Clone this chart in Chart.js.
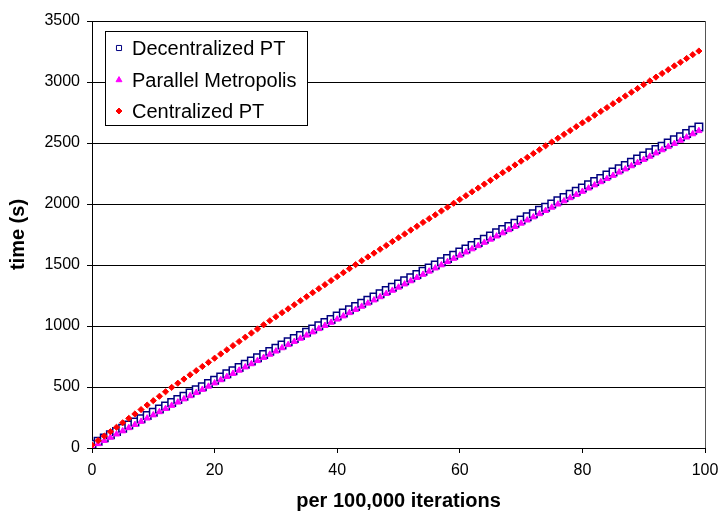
<!DOCTYPE html>
<html>
<head>
<meta charset="utf-8">
<script src="https://cdn.jsdelivr.net/npm/chart.js@4.4.1/dist/chart.umd.min.js"></script>
<style>
  body { margin: 0; background: #fff; }
  #wrap { width: 721px; height: 521px; }
</style>
</head>
<body>
<div id="wrap"><canvas id="timing" width="721" height="521"></canvas></div>
<script>
// x = per 100,000 iterations
var iterations = [
  0, 1, 2, 3, 4, 5, 6, 7, 8, 9, 10, 11, 12, 13, 14, 15, 16, 17, 18, 19,
  20, 21, 22, 23, 24, 25, 26, 27, 28, 29, 30, 31, 32, 33, 34, 35, 36, 37, 38, 39,
  40, 41, 42, 43, 44, 45, 46, 47, 48, 49, 50, 51, 52, 53, 54, 55, 56, 57, 58, 59,
  60, 61, 62, 63, 64, 65, 66, 67, 68, 69, 70, 71, 72, 73, 74, 75, 76, 77, 78, 79,
  80, 81, 82, 83, 84, 85, 86, 87, 88, 89, 90, 91, 92, 93, 94, 95, 96, 97, 98, 99
];
// time (s)
var decentralizedPT = [
  30, 56, 83, 109, 135, 161, 188, 214, 240, 266, 293, 319, 345, 372, 398, 424, 450, 477, 503, 529,
  555, 582, 608, 634, 660, 687, 713, 739, 766, 792, 818, 844, 871, 897, 923, 949, 976, 1002, 1028, 1054,
  1081, 1107, 1133, 1160, 1186, 1212, 1238, 1265, 1291, 1317, 1344, 1370, 1396, 1422, 1449, 1475, 1501, 1527, 1554, 1580,
  1606, 1632, 1659, 1685, 1711, 1738, 1764, 1790, 1816, 1843, 1869, 1895, 1921, 1948, 1974, 2000, 2027, 2053, 2079, 2105,
  2132, 2158, 2184, 2210, 2237, 2263, 2289, 2316, 2342, 2368, 2394, 2421, 2447, 2473, 2499, 2526, 2552, 2578, 2605, 2631
];
var parallelMetropolis = [
  8, 34, 60, 87, 113, 139, 165, 191, 217, 244, 270, 296, 322, 348, 375, 401, 427, 453, 479, 505,
  532, 558, 584, 610, 636, 663, 689, 715, 741, 767, 793, 820, 846, 872, 898, 924, 950, 977, 1003, 1029,
  1055, 1081, 1108, 1134, 1160, 1186, 1212, 1238, 1265, 1291, 1317, 1343, 1369, 1396, 1422, 1448, 1474, 1500, 1526, 1553,
  1579, 1605, 1631, 1657, 1684, 1710, 1736, 1762, 1788, 1814, 1841, 1867, 1893, 1919, 1945, 1972, 1998, 2024, 2050, 2076,
  2102, 2129, 2155, 2181, 2207, 2233, 2260, 2286, 2312, 2338, 2364, 2390, 2417, 2443, 2469, 2495, 2521, 2547, 2574, 2600
];
var centralizedPT = [
  25, 61, 98, 134, 170, 207, 243, 279, 315, 352, 388, 424, 461, 497, 531, 565, 600, 634, 668, 702,
  736, 771, 805, 839, 873, 908, 942, 976, 1010, 1043, 1076, 1109, 1141, 1174, 1207, 1240, 1273, 1306, 1339, 1372,
  1405, 1437, 1470, 1503, 1535, 1566, 1597, 1629, 1660, 1692, 1723, 1754, 1786, 1817, 1849, 1880, 1911, 1943, 1974, 2006,
  2037, 2068, 2100, 2131, 2163, 2194, 2226, 2257, 2288, 2320, 2351, 2382, 2414, 2445, 2477, 2508, 2539, 2571, 2602, 2634,
  2665, 2696, 2728, 2759, 2790, 2822, 2853, 2885, 2916, 2947, 2979, 3009, 3040, 3070, 3101, 3132, 3162, 3193, 3224, 3254
];
var seriesNames = ['Decentralized PT', 'Parallel Metropolis', 'Centralized PT'];

var FONT = "'Liberation Sans', Arial, sans-serif";

function toPoints(ys) {
  var pts = [];
  for (var i = 0; i < ys.length; i++) {
    pts.push({x: iterations[i], y: ys[i]});
  }
  return pts;
}

// boxed legend inside the plot, drawn on top of grid lines
var boxLegend = {
  id: 'boxLegend',
  afterDatasetsDraw: function(chart) {
    var ctx = chart.ctx;
    ctx.save();
    ctx.fillStyle = '#fff';
    ctx.strokeStyle = '#000';
    ctx.lineWidth = 1;
    ctx.fillRect(105.5, 31.5, 202, 94);
    ctx.strokeRect(105.5, 31.5, 202, 94);
    var rows = [48, 80, 111];
    var sizes = [3.6, 3.4, 3.0];
    chart.data.datasets.forEach(function(ds, i) {
      ctx.fillStyle = ds.backgroundColor;
      ctx.strokeStyle = ds.borderColor;
      ctx.lineWidth = 1;
      Chart.helpers.drawPoint(ctx, {pointStyle: ds.pointStyle, radius: sizes[i], borderWidth: 1, rotation: 0}, 119, rows[i]);
      ctx.fillStyle = '#000';
      ctx.font = '20px ' + FONT;
      ctx.textBaseline = 'middle';
      ctx.textAlign = 'left';
      ctx.fillText(ds.label, 132, rows[i] + 1);
    });
    ctx.restore();
  }
};

// right-hand frame line of the plot area
var frame = {
  id: 'frame',
  beforeDatasetsDraw: function(chart) {
    var a = chart.chartArea;
    var ctx = chart.ctx;
    ctx.save();
    ctx.strokeStyle = '#555';
    ctx.lineWidth = 1;
    ctx.beginPath();
    ctx.moveTo(Math.round(a.right) + 0.5, a.top);
    ctx.lineTo(Math.round(a.right) + 0.5, a.bottom);
    ctx.stroke();
    ctx.restore();
  }
};

const ctx = document.getElementById('timing').getContext('2d');
const timingChart = new Chart(ctx, {
  type: 'scatter',
  data: {
    datasets: [
      {
        label: seriesNames[0],
        data: toPoints(decentralizedPT),
        pointStyle: 'rect',
        pointRadius: 5.3,
        borderWidth: 1.5,
        borderColor: '#000080',
        backgroundColor: '#ffffff',
        order: 3
      },
      {
        label: seriesNames[1],
        data: toPoints(parallelMetropolis),
        pointStyle: 'triangle',
        pointRadius: 3.6,
        borderWidth: 1,
        borderColor: '#ff00ff',
        backgroundColor: '#ff00ff',
        order: 2
      },
      {
        label: seriesNames[2],
        data: toPoints(centralizedPT),
        pointStyle: 'rectRot',
        pointRadius: 3.1,
        borderWidth: 1,
        borderColor: '#ff0000',
        backgroundColor: '#ff0000',
        order: 1
      }
    ]
  },
  options: {
    responsive: false,
    animation: false,
    events: [],
    layout: {
      padding: {left: 0, top: 21, right: 16, bottom: 0}
    },
    plugins: {
      legend: {display: false},
      tooltip: {enabled: false}
    },
    scales: {
      x: {
        type: 'linear',
        min: 0,
        max: 100,
        ticks: {
          stepSize: 20,
          color: '#000',
          padding: 8,
          maxRotation: 0,
          font: {family: FONT, size: 16}
        },
        grid: {
          drawOnChartArea: false,
          drawTicks: true,
          tickLength: 5,
          color: '#000'
        },
        border: {color: '#000', width: 1},
        title: {
          display: true,
          text: 'per 100,000 iterations',
          color: '#000',
          font: {family: FONT, size: 20, weight: 'bold'},
          padding: {top: 4, bottom: 8}
        },
        afterFit: function(scale) {
          scale.height = 73;
          scale.paddingLeft = 0;
          scale.paddingRight = 0;
        }
      },
      y: {
        min: 0,
        max: 3500,
        ticks: {
          stepSize: 500,
          color: '#000',
          padding: 7,
          font: {family: FONT, size: 16},
          callback: function(value) { return String(value); }
        },
        grid: {
          color: '#000',
          lineWidth: 1,
          drawTicks: true,
          tickLength: 5
        },
        border: {color: '#000', width: 1},
        title: {
          display: true,
          text: 'time (s)',
          color: '#000',
          font: {family: FONT, size: 20, weight: 'bold'},
          padding: {top: 6, bottom: 4}
        },
        afterFit: function(scale) {
          scale.width = 92;
          scale.paddingTop = 0;
          scale.paddingBottom = 0;
        }
      }
    }
  },
  plugins: [frame, boxLegend]
});
</script>
</body>
</html>
